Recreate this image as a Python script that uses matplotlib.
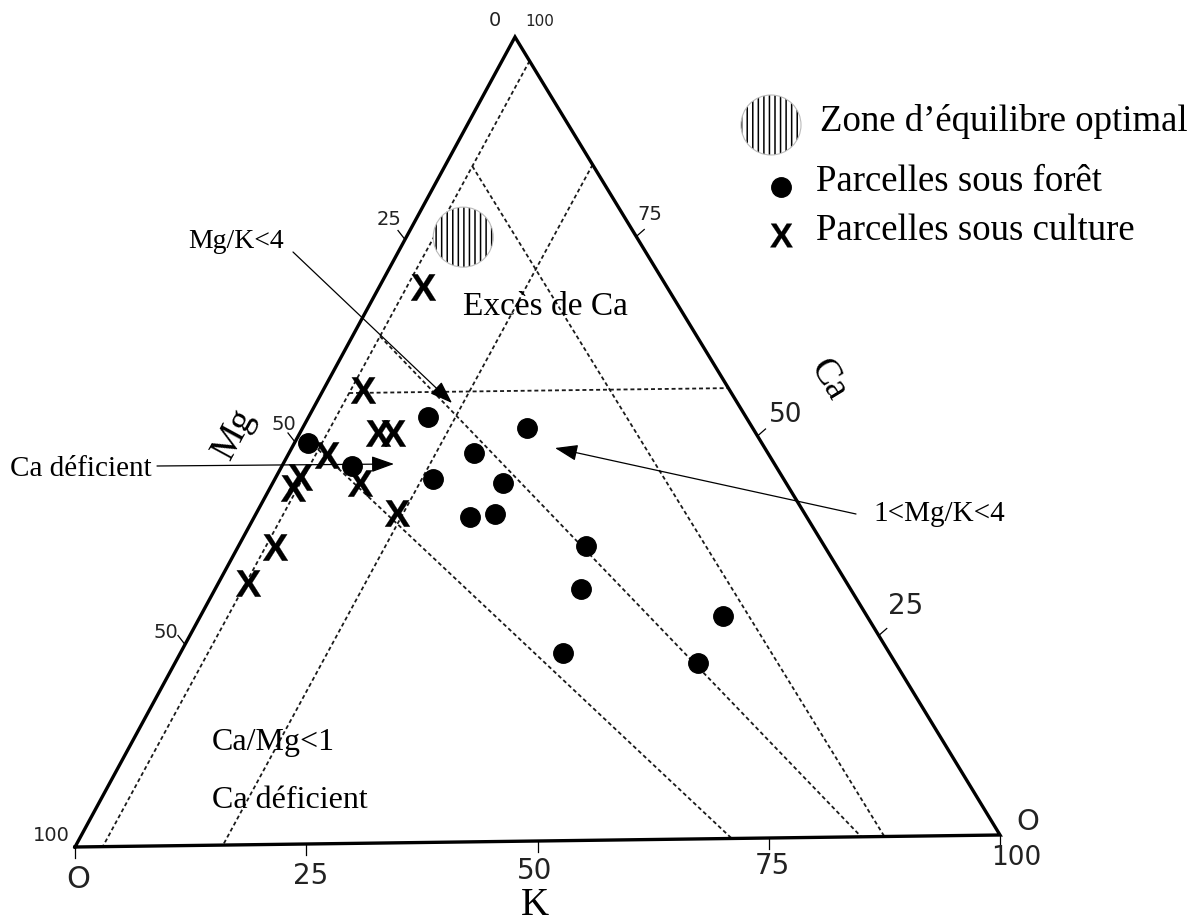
import matplotlib.pyplot as plt
from matplotlib.patches import Circle
from matplotlib.textpath import TextPath
from matplotlib.font_manager import FontProperties
from matplotlib.path import Path

# ---- data: composition in % (K, Ca); Mg = 100 - K - Ca ----
FOREST_K = [1.4, 7.6, 13.0, 24.4, 20.2, 17.2, 25.1, 23.5, 26.0, 37.8, 39.8, 56.9, 41.7, 56.9]
FOREST_CA = [49.9, 46.9, 52.9, 51.4, 48.3, 45.2, 44.6, 40.4, 40.7, 36.6, 31.3, 27.7, 23.3, 21.9]

CROP_K = [4.8, 4.3, 8.5, 10.1, 4.3, 2.6, 2.5, 9.5, 15.3, 4.0, 3.2]
CROP_CA = [69.1, 56.4, 51.0, 51.0, 48.3, 45.6, 44.3, 44.8, 41.0, 37.0, 32.5]

OPTIMUM_K = 6.2
OPTIMUM_CA = 75.2

# limit lines, (K, Ca) start -> end
LIMIT_START_K = [3, 3, 16, 3, 3, 3]
LIMIT_START_CA = [97, 84, 84, 56, 63, 49]
LIMIT_END_K = [3, 87.5, 16, 44, 85, 71]
LIMIT_END_CA = [0, 0, 0, 56, 0, 0]

AXIS_TICKS = [0, 25, 50, 75, 100]
K_TICK_LABELS = ["O", "25", "50", "75", "100"]
MG_TICK_LABELS = ["0", "25", "50", "50", "100"]
CA_TICK_LABELS = ["O", "25", "50", "75", "100"]

# ---- layout: corners of the triangle in figure pixels ----
MG_CORNER = (75, 847)
K_CORNER = (1000, 835)
CA_CORNER = (515, 37)

SERIF = ["Liberation Serif", "DejaVu Serif"]
SANS = ["DejaVu Sans"]


def tern_xy(k, ca):
    """Ternary percentages -> plot coordinates."""
    k = k / 100.0
    ca = ca / 100.0
    mg = 1.0 - k - ca
    x = mg * MG_CORNER[0] + k * K_CORNER[0] + ca * CA_CORNER[0]
    y = mg * MG_CORNER[1] + k * K_CORNER[1] + ca * CA_CORNER[1]
    return x, y


def x_marker_path():
    fp = FontProperties(family="Liberation Sans", weight="bold")
    tp = TextPath((0, 0), "X", prop=fp, size=1)
    bb = tp.get_extents()
    verts = tp.vertices.copy()
    verts[:, 0] -= (bb.x0 + bb.x1) / 2
    verts[:, 1] -= (bb.y0 + bb.y1) / 2
    return Path(verts, tp.codes)


plt.rcParams["hatch.linewidth"] = 1.1
fig = plt.figure(figsize=(12.04, 9.22), dpi=100)
ax = fig.add_axes([0, 0, 1, 1])
ax.set_xlim(0, 1204)
ax.set_ylim(922, 0)
ax.axis("off")

# triangle frame
corners = [MG_CORNER, K_CORNER, CA_CORNER, MG_CORNER]
ax.plot([c[0] for c in corners], [c[1] for c in corners], color="black",
        lw=2.4, solid_joinstyle="miter", zorder=3)

# dashed limit lines
for k0, c0, k1, c1 in zip(LIMIT_START_K, LIMIT_START_CA, LIMIT_END_K, LIMIT_END_CA):
    x0, y0 = tern_xy(k0, c0)
    x1, y1 = tern_xy(k1, c1)
    ax.plot([x0, x1], [y0, y1], color="#1a1a1a", lw=1.3,
            linestyle=(0, (2.2, 1.6)), zorder=2)

# ticks and tick labels
k_offsets = [(3, 32), (4, 32), (-3, 30), (4, 28), (16, 23)]
k_sizes = [22, 20, 20, 20, 19]
for v, lab, off, fs in zip(AXIS_TICKS, K_TICK_LABELS, k_offsets, k_sizes):
    x, y = tern_xy(v, 0)
    ax.plot([x, x], [y, y + 11], color="black", lw=0.9)
    ax.text(x + off[0], y + off[1], lab, ha="center", va="center",
            fontsize=fs, family=SANS, color="#222222")

mg_offsets = [(-20, -17), (-16, -20), (-11, -18), (-19, -12), (-24, -12)]
mg_sizes = [14, 14, 14, 14, 14]
for v, lab, off, fs in zip(AXIS_TICKS, MG_TICK_LABELS, mg_offsets, mg_sizes):
    x, y = tern_xy(0, 100 - v)
    if 0 < v < 100:
        ax.plot([x, x - 7], [y, y - 9], color="black", lw=0.9)
    ax.text(x + off[0], y + off[1], lab, ha="center", va="center",
            fontsize=fs, family=SANS, color="#222222")

ca_offsets = [(28, -13), (27, -30), (28, -21), (14, -22), (25, -16)]
ca_sizes = [21, 20, 19, 14, 11]
for v, lab, off, fs in zip(AXIS_TICKS, CA_TICK_LABELS, ca_offsets, ca_sizes):
    x, y = tern_xy(100 - v, v)
    if 0 < v < 100:
        ax.plot([x, x + 8], [y, y - 7], color="black", lw=0.9)
    ax.text(x + off[0], y + off[1], lab, ha="center", va="center",
            fontsize=fs, family=SANS, color="#222222")

# axis names
ax.text(234, 434, "Mg", rotation=61.5, ha="center", va="center",
        fontsize=27, family=SERIF, rotation_mode="anchor")
ax.text(828, 380, "Ca", rotation=-58.7, ha="center", va="center",
        fontsize=27, family=SERIF, rotation_mode="anchor")
ax.text(535, 905, "K", ha="center", va="center", fontsize=28, family=SERIF)

# optimal zone
zx, zy = tern_xy(OPTIMUM_K, OPTIMUM_CA)
ax.add_patch(Circle((zx, zy), 30, facecolor="white", edgecolor="black",
                    hatch="|||", lw=0, zorder=4))
ax.add_patch(Circle((zx, zy), 30, fill=False, edgecolor="#bbbbbb", lw=0.8, zorder=4))

# data points
fx, fy = zip(*[tern_xy(k, c) for k, c in zip(FOREST_K, FOREST_CA)])
cx, cy = zip(*[tern_xy(k, c) for k, c in zip(CROP_K, CROP_CA)])
xmark = x_marker_path()
ax.plot(fx, fy, "o", color="black", ms=14, zorder=5)
ax.plot(cx, cy, linestyle="none", marker=xmark, ms=19, color="black",
        mew=0.2, zorder=5)

# region texts
ax.text(463, 315, "Excès de Ca", fontsize=24, family=SERIF, va="baseline")
ax.text(212, 750, "Ca/Mg<1", fontsize=23, family=SERIF, va="baseline")
ax.text(212, 808, "Ca déficient", fontsize=23, family=SERIF, va="baseline")

# annotations with arrows
arrow = dict(arrowstyle="-|>,head_length=0.7,head_width=0.25", color="black",
             lw=0.9, shrinkA=0, shrinkB=0, mutation_scale=20)
ax.text(236, 248, "Mg/K<4", ha="center", va="baseline", fontsize=20, family=SERIF)
ax.annotate("", xy=(452, 403), xytext=(293, 252), arrowprops=arrow)
ax.text(10, 476, "Ca déficient", ha="left", va="baseline", fontsize=21, family=SERIF)
ax.annotate("", xy=(394, 464), xytext=(157, 466), arrowprops=arrow)
ax.text(873, 521, "1<Mg/K<4", ha="left", va="baseline", fontsize=21, family=SERIF)
ax.annotate("", xy=(555, 448), xytext=(856, 514), arrowprops=arrow)

# legend
ax.add_patch(Circle((771, 125), 30, facecolor="white", edgecolor="black",
                    hatch="|||", lw=0, zorder=4))
ax.add_patch(Circle((771, 125), 30, fill=False, edgecolor="#bbbbbb", lw=0.8, zorder=4))
ax.text(820, 131, "Zone d\u2019équilibre optimal", fontsize=26.5, family=SERIF, va="baseline")
ax.plot([781], [187], "o", color="black", ms=14)
ax.text(816, 191, "Parcelles sous forêt", fontsize=26.5, family=SERIF, va="baseline")
ax.plot([781], [235], linestyle="none", marker=xmark, ms=17, color="black", mew=0.2)
ax.text(816, 240, "Parcelles sous culture", fontsize=26.5, family=SERIF, va="baseline")

fig.savefig("out.png", dpi=100)
